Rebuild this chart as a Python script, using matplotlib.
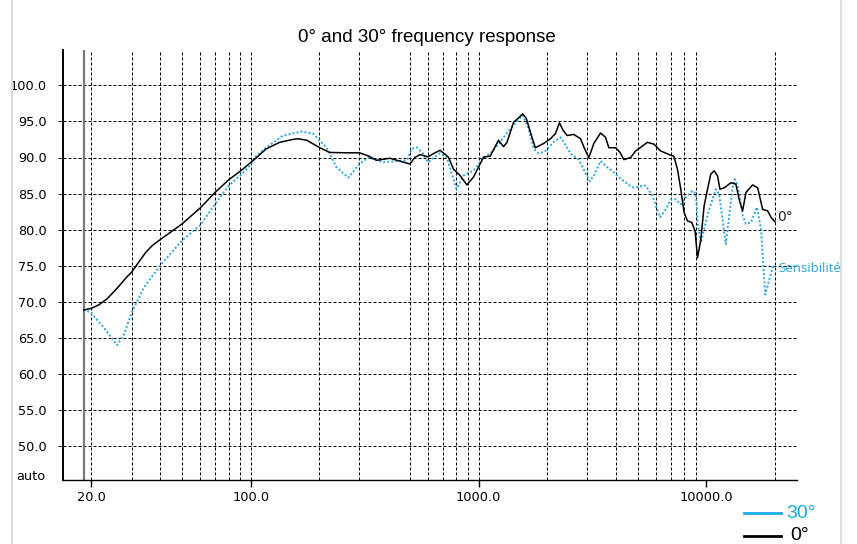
import matplotlib as mpl
import matplotlib.pyplot as plt
from matplotlib.lines import Line2D
from matplotlib.ticker import NullLocator
import matplotlib.transforms as mtransforms

mpl.rcParams['font.family'] = 'DejaVu Sans'
mpl.rcParams['font.size'] = 9.3

blue = '#2ba6de'

# 0 degree response (Hz, dB)
freq_0 = [18.5, 20, 21.6, 23.4, 25, 26.8, 28.5, 30, 34.6, 37, 40, 50, 60, 70,
          80, 90, 100, 107, 117, 134, 153, 161, 176, 200, 222, 260, 300, 330,
          357, 408, 468, 500, 525, 554, 600, 640, 678, 738, 776, 830, 889,
          951, 1052, 1126, 1224, 1288, 1333, 1426, 1500, 1562, 1622, 1689,
          1776, 1932, 2068, 2175, 2265, 2352, 2449, 2618, 2804, 2918, 3050,
          3208, 3433, 3610, 3733, 4000, 4180, 4345, 4652, 4893, 5510, 5890,
          6304, 7000, 7194, 7468, 7722, 7984, 8265, 8632, 8925, 9146, 9456,
          9778, 10120, 10460, 10820, 11200, 11470, 11980, 12820, 13480, 13930,
          14430, 14920, 15960, 16800, 17670, 18590, 19230, 20000]
db_0 = [68.85, 69.1, 69.6, 70.4, 71.35, 72.4, 73.4, 74.1, 76.85, 77.8, 78.6,
        80.8, 83.0, 85.2, 86.9, 88.1, 89.3, 90.1, 91.2, 92.1, 92.5, 92.6,
        92.4, 91.4, 90.7, 90.65, 90.65, 90.2, 89.6, 89.9, 89.35, 89.1, 90.0,
        90.4, 90.1, 90.6, 91.0, 90.05, 88.4, 87.5, 86.2, 87.3, 90.05, 90.2,
        92.4, 91.5, 92.1, 94.9, 95.5, 96.05, 95.4, 93.5, 91.35, 91.95, 92.6,
        93.3, 94.8, 93.75, 93.05, 93.2, 92.6, 91.25, 90.0, 91.95, 93.4, 92.8,
        91.35, 91.35, 90.7, 89.7, 90.0, 90.9, 92.1, 91.85, 90.9, 90.3, 90.2,
        88.4, 85.6, 82.4, 81.2, 81.0, 79.8, 76.1, 78.6, 83.3, 85.6, 87.7,
        88.15, 87.45, 85.6, 85.8, 86.5, 86.3, 84.2, 82.6, 85.15, 86.2, 85.8,
        82.8, 82.6, 81.7, 81.1]

# 30 degree response (Hz, dB)
freq_30 = [18.5, 20, 22.7, 25.9, 27.8, 30, 34.0, 40, 50, 60, 70, 80, 90, 100,
           104, 117, 139, 167, 188, 215, 238, 268, 300, 328, 382, 437, 484,
           509, 536, 573, 600, 678, 726, 764, 800, 859, 951, 1052, 1126, 1205,
           1379, 1562, 1660, 1746, 1837, 1966, 2138, 2288, 2365, 2533, 2754,
           2953, 3080, 3208, 3433, 3673, 3928, 4131, 4400, 4652, 4810, 5100,
           5415, 5800, 6260, 6632, 7000, 7340, 7722, 8123, 8695, 8990, 9200,
           9456, 9778, 10290, 11010, 11380, 11780, 12180, 12600, 13040, 13350,
           13710, 14430, 14920, 15700, 16680, 17380, 18140, 18890, 19550,
           20000]
db_30 = [69.0, 68.4, 66.4, 64.0, 65.5, 68.5, 72.0, 75.0, 78.5, 80.6, 83.6,
         86.1, 87.5, 89.0, 90.0, 91.4, 93.05, 93.6, 93.3, 91.4, 88.65, 87.2,
         89.1, 90.0, 89.35, 89.5, 89.6, 91.2, 91.4, 90.5, 89.35, 90.6, 90.0,
         87.7, 85.65, 87.5, 88.2, 90.0, 90.55, 91.6, 94.0, 95.85, 94.0, 91.25,
         90.55, 90.9, 92.15, 92.8, 92.15, 90.55, 89.7, 87.8, 86.7, 87.5, 89.5,
         88.65, 87.95, 87.25, 86.6, 86.0, 85.8, 86.0, 86.1, 84.7, 81.7, 82.8,
         84.2, 84.2, 83.5, 84.45, 85.4, 85.0, 80.5, 78.2, 80.05, 82.8, 85.6,
         84.9, 81.45, 78.0, 81.9, 85.8, 87.0, 86.1, 82.0, 80.8, 81.0, 83.1,
         80.05, 71.0, 73.1, 74.7, 75.2]

grid_freqs = [20, 30, 40, 50, 60, 70, 80, 90, 100, 200, 300, 500, 600, 700,
              800, 900, 1000, 2000, 3000, 4000, 5000, 6000, 7000, 8000, 9000,
              20000]
grid_db = [50, 55, 60, 65, 70, 75, 80, 85, 90, 95, 100]
xtick_freqs = [20, 100, 1000, 10000]
xtick_labels = ['20.0', '100.0', '1000.0', '10000.0']

W, H = 857, 544
fig = plt.figure(figsize=(W / 100, H / 100), dpi=100)


def fx(px):
    return px / W


def fy(py):
    return 1 - py / H


ax = fig.add_axes([fx(63), fy(480), fx(797) - fx(63), fy(50) - fy(480)])
ax.set_xscale('log')
ax.set_xlim(15, 25000)
ax.set_ylim(45.3, 104.9)

# dashed grid
for d in grid_db:
    ax.axhline(d, color='black', lw=0.72, ls=(0, (3, 2)), zorder=1)
for f in grid_freqs:
    ax.axvline(f, color='black', lw=0.72, ls=(0, (3, 2)), zorder=1)
# start of the measurement
ax.axvline(freq_0[0], color='#7a7a7a', lw=1.6, zorder=2)

ax.plot(freq_30, db_30, color=blue, lw=1.4, ls=(0, (1, 1.1)), zorder=3)
ax.plot(freq_0, db_0, color='black', lw=1.1, solid_joinstyle='round', zorder=4)

ax.spines['top'].set_visible(False)
ax.spines['right'].set_visible(False)
ax.spines['left'].set_linewidth(1.4)
ax.spines['bottom'].set_linewidth(1.0)

ax.set_xticks(xtick_freqs)
ax.set_xticklabels(xtick_labels)
ax.xaxis.set_minor_locator(NullLocator())
ax.tick_params(axis='x', length=5, width=1.0, pad=2.9)
ax.set_yticks(grid_db)
ax.set_yticklabels(['%.1f' % d for d in grid_db])
ax.tick_params(axis='y', length=3.6, width=0.6, pad=7.9)

trans = mtransforms.blended_transform_factory(ax.transAxes, ax.transData)
ax.text(-0.0245, 45.8, 'auto', transform=trans, ha='right', va='center')

fig.text(fx(427), fy(37), '0\u00b0 and 30\u00b0 frequency response',
         family='Liberation Sans', fontsize=13.5, ha='center', va='center')

# labels at the curve ends
fig.text(fx(777), fy(217), '0\u00b0', fontsize=10, color='#222222',
         ha='left', va='center')
fig.text(fx(778), fy(268), 'Sensibilit\u00e9', family='Open Sans',
         fontsize=9.5, color=blue, ha='left', va='center')

# legend
fig.add_artist(Line2D([fx(744), fx(781)], [fy(513), fy(513)], color='#1aa9e8', lw=2.0))
fig.add_artist(Line2D([fx(744), fx(781)], [fy(536), fy(536)], color='black', lw=2.0))
fig.text(fx(786), fy(513), '30\u00b0', family='Liberation Sans', fontsize=14,
         color='#1aa9e8', ha='left', va='center')
fig.text(fx(790), fy(535), '0\u00b0', family='Liberation Sans', fontsize=14,
         color='black', ha='left', va='center')

# light frame of the panel
fig.add_artist(Line2D([fx(12), fx(12)], [0, 1], color='#dddddd', lw=1.5))
fig.add_artist(Line2D([fx(841), fx(841)], [0, 1], color='#dddddd', lw=1.5))

fig.savefig('out.png', dpi=100)
